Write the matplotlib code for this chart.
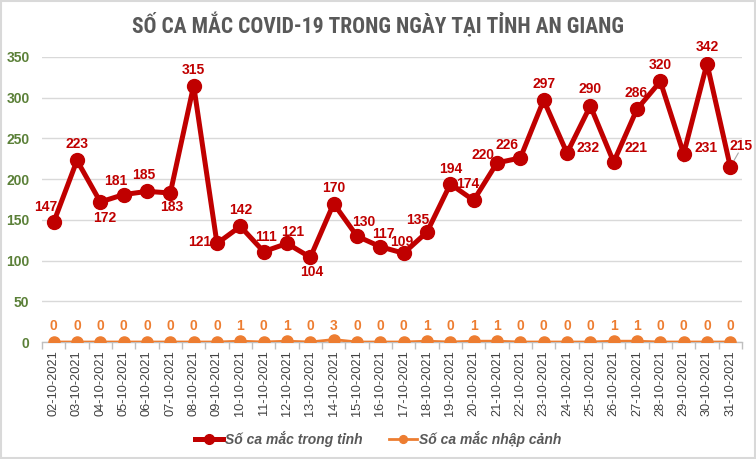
import matplotlib
matplotlib.use("Agg")
import matplotlib.pyplot as plt
from matplotlib import font_manager
from matplotlib.patches import Rectangle
from matplotlib.ticker import FixedLocator, MultipleLocator

dates = ["02-10-2021", "03-10-2021", "04-10-2021", "05-10-2021", "06-10-2021",
         "07-10-2021", "08-10-2021", "09-10-2021", "10-10-2021", "11-10-2021",
         "12-10-2021", "13-10-2021", "14-10-2021", "15-10-2021", "16-10-2021",
         "17-10-2021", "18-10-2021", "19-10-2021", "20-10-2021", "21-10-2021",
         "22-10-2021", "23-10-2021", "24-10-2021", "25-10-2021", "26-10-2021",
         "27-10-2021", "28-10-2021", "29-10-2021", "30-10-2021", "31-10-2021"]
trong_tinh = [147, 223, 172, 181, 185, 183, 315, 121, 142, 111, 121, 104, 170, 130, 117,
              109, 135, 194, 174, 220, 226, 297, 232, 290, 221, 286, 320, 231, 342, 215]
nhap_canh = [0, 0, 0, 0, 0, 0, 0, 0, 1, 0, 1, 0, 3, 0, 0,
             0, 1, 0, 1, 1, 0, 0, 0, 0, 1, 1, 0, 0, 0, 0]
title = "SỐ CA MẮC COVID-19 TRONG NGÀY TẠI TỈNH AN GIANG"
label_red = "Số ca mắc trong tỉnh"
label_orange = "Số ca mắc nhập cảnh"

# label offsets in pixels (dx, dy)
red_offsets = [(-8, 15), (0, 16), (4, -16), (-8, 14), (-3, 16), (1, -14), (0, 16), (-17, 1),
               (0, 16), (2, 15), (6, 11), (1, -15), (0, 16), (7, 14), (3, 13), (-2, 11),
               (-9, 12), (0, 15), (-6, 16), (-14, 8), (-13, 13), (0, 16), (21, 5), (0, 17),
               (22, 14), (-1, 16), (0, 16), (22, 6), (0, 17), (11, 21)]

RED = "#c00000"
ORANGE = "#ed7d31"

plt.rcParams["font.family"] = ["Liberation Sans", "DejaVu Sans"]

# pick a condensed bold font for the title if one is installed
TSIZE = 15.5
title_font = None
names = {(f.name, str(f.stretch)) for f in font_manager.fontManager.ttflist}
for cand in ["Liberation Sans Narrow", "Roboto Condensed", "Open Sans Condensed",
             "DejaVu Sans Condensed", "Noto Sans Condensed"]:
    if any(n == cand for n, _ in names):
        title_font = font_manager.FontProperties(family=cand, weight="bold", size=TSIZE)
        break
if title_font is None:
    cond = [f for f in font_manager.fontManager.ttflist
            if str(f.stretch) in ("condensed", "semi-condensed", "extra-condensed", "75", "87")
            and f.style == "normal"]
    cond_bold = [f for f in cond if (f.weight in ("bold", 700) or str(f.weight) == "700")]
    pick = cond_bold or cond
    if pick:
        title_font = font_manager.FontProperties(fname=pick[0].fname, size=TSIZE)
if title_font is None:
    title_font = font_manager.FontProperties(family="Liberation Sans", weight="bold", size=14)

fig = plt.figure(figsize=(7.56, 4.59), dpi=100)
ax = fig.add_axes([42 / 756, 1 - 342 / 459, 700 / 756, 285 / 459])

x = list(range(len(dates)))
ax.plot(x, trong_tinh, color=RED, lw=3.6, marker="o", ms=10, label=label_red, zorder=4,
        solid_joinstyle="miter")
ax.plot(x, nhap_canh, color=ORANGE, lw=2, marker="o", ms=8, label=label_orange, zorder=3)

for i, (v, off) in enumerate(zip(trong_tinh, red_offsets)):
    ax.annotate(str(v), (i, v), xytext=off, textcoords="offset pixels",
                ha="center", va="center", color=RED, fontsize=10, fontweight="bold", zorder=5)
ax.annotate("", (len(dates) - 1, trong_tinh[-1]), xytext=(8, 14), textcoords="offset pixels",
            arrowprops=dict(arrowstyle="-", color="#a6a6a6", lw=0.8, shrinkA=0, shrinkB=2))
for i, v in enumerate(nhap_canh):
    ax.annotate(str(v), (i, v), xytext=(0, 16 - 0.8 * v), textcoords="offset pixels",
                ha="center", va="center", color=ORANGE, fontsize=10, fontweight="bold", zorder=5)

ax.set_xlim(-0.5, len(dates) - 0.5)
ax.set_ylim(0, 350)
ax.yaxis.set_major_locator(MultipleLocator(50))
ax.grid(axis="y", color="#d9d9d9", lw=1)
ax.set_axisbelow(True)
for s in ["top", "right", "left"]:
    ax.spines[s].set_visible(False)
ax.spines["bottom"].set_color("#bfbfbf")
ax.spines["bottom"].set_linewidth(1)

ax.set_xticks(x)
ax.set_xticklabels(dates, rotation=90, fontsize=9.2, color="#404040")
ax.tick_params(axis="x", which="major", length=0, pad=6)
ax.xaxis.set_minor_locator(FixedLocator([i - 0.5 for i in range(len(dates) + 1)]))
ax.tick_params(axis="x", which="minor", length=5, color="#bfbfbf", width=1)
ax.tick_params(axis="y", length=0, pad=9, labelsize=10, labelcolor="#5b8038")
for t in ax.get_yticklabels():
    t.set_fontweight("bold")

fig.text(378 / 756, 1 - 26 / 459, title, ha="center", va="center",
         fontproperties=title_font, color="#595959")

leg = fig.legend(loc="center", bbox_to_anchor=(378 / 756, 1 - 439 / 459), ncol=2, frameon=False,
                 handlelength=2.0, columnspacing=1.9, handletextpad=0.15, markerscale=0.7,
                 prop={"style": "italic", "weight": "bold", "size": 10})
for t in leg.get_texts():
    t.set_color("#595959")

fig.add_artist(Rectangle((0.001, 0.002), 0.998, 0.996, transform=fig.transFigure,
                         fill=False, edgecolor="#d9d9d9", lw=1.5))

fig.savefig("out.png", dpi=100)
